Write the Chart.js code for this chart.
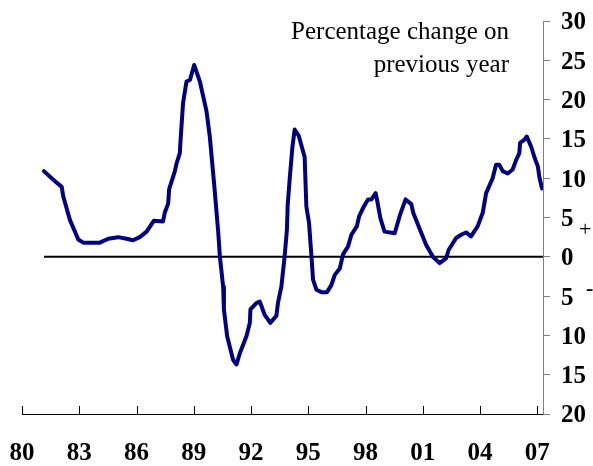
<!DOCTYPE html>
<html>
<head>
<meta charset="utf-8">
<script src="https://cdn.jsdelivr.net/npm/chart.js@4"></script>
<style>
  html, body { margin: 0; padding: 0; background: #fff; }
  canvas { display: block; }
</style>
</head>
<body>
<canvas id="chart" width="593" height="466"></canvas>
<script>
// values (year, % change on previous year)
const years = [1981.15, 1981.64, 1982.08, 1982.16, 1982.51, 1982.95, 1983.21, 1984.08, 1984.52, 1985.04,
  1985.48, 1985.82, 1986.17, 1986.53, 1986.91, 1987.39, 1987.48, 1987.66, 1987.71, 1988.0,
  1988.1, 1988.27, 1988.31, 1988.44, 1988.62, 1988.8, 1989.02, 1989.32, 1989.67, 1989.84,
  1990.07, 1990.28, 1990.37, 1990.54, 1990.58, 1990.75, 1991.06, 1991.24, 1991.41, 1991.76,
  1991.94, 1991.97, 1992.28, 1992.46, 1992.72, 1993.01, 1993.33, 1993.41, 1993.59, 1993.76,
  1993.88, 1993.92, 1994.03, 1994.17, 1994.29, 1994.5, 1994.81, 1994.9, 1995.04, 1995.17,
  1995.25, 1995.43, 1995.69, 1995.98, 1996.21, 1996.39, 1996.65, 1996.82, 1997.08, 1997.26,
  1997.55, 1997.66, 1997.87, 1998.13, 1998.31, 1998.53, 1998.6, 1998.78, 1999.0, 1999.53,
  1999.79, 2000.1, 2000.4, 2000.5, 2000.86, 2001.18, 2001.53, 2001.88, 2002.22, 2002.36,
  2002.75, 2003.01, 2003.27, 2003.53, 2003.88, 2004.14, 2004.32, 2004.66, 2004.84, 2005.01,
  2005.19, 2005.45, 2005.71, 2005.89, 2006.06, 2006.1, 2006.33, 2006.45, 2006.68, 2006.86,
  2007.03, 2007.12, 2007.25];
const growth = [10.9, 9.8, 8.9, 7.7, 4.7, 2.2, 1.8, 1.8, 2.3, 2.5,
  2.3, 2.1, 2.5, 3.2, 4.6, 4.5, 5.6, 6.8, 8.6, 10.8,
  11.9, 13.2, 14.9, 19.6, 22.3, 22.5, 24.4, 22.3, 18.5, 15.3,
  9.2, 3.2, 0, -3.8, -6.7, -10.1, -13.1, -13.7, -12.3, -10.1,
  -8.4, -6.7, -5.9, -5.7, -7.4, -8.4, -7.5, -5.9, -3.8, 0,
  3.4, 6.5, 10.0, 14.0, 16.2, 15.4, 12.7, 6.4, 4.3, 0,
  -2.9, -4.2, -4.5, -4.5, -3.6, -2.3, -1.5, 0.3, 1.3, 2.8,
  3.9, 5.1, 6.2, 7.3, 7.3, 8.1, 7.3, 4.9, 3.2, 3.0,
  5.2, 7.3, 6.7, 5.6, 3.4, 1.5, 0, -0.8, -0.2, 0.9,
  2.4, 2.8, 3.1, 2.6, 3.9, 5.6, 8.1, 10.0, 11.7, 11.7,
  10.9, 10.6, 11.1, 12.3, 13.2, 14.5, 14.9, 15.3, 14.0, 12.6,
  11.5, 10.0, 8.7];
const tickYears = [1980, 1983, 1986, 1989, 1992, 1995, 1998, 2001, 2004, 2007];
const titleLines = ["Percentage change on", "previous year"];

const X_MIN = 1980, X_MAX = 2007.3;
const SERIF = "'Liberation Serif', 'Times New Roman', serif";

// x axis tick marks point up into the plot, so draw them by hand
const innerTicks = {
  id: "innerTicks",
  afterDraw(chart) {
    const { ctx, scales: { x }, chartArea } = chart;
    ctx.save();
    ctx.strokeStyle = "#000";
    ctx.lineWidth = 1;
    tickYears.forEach(function (yr) {
      const px = Math.round(x.getPixelForValue(yr)) + 0.5;
      ctx.beginPath();
      ctx.moveTo(px, chartArea.bottom);
      ctx.lineTo(px, chartArea.bottom - 8);
      ctx.stroke();
    });
    ctx.restore();
  },
};

// heading and the +/- signs next to the axis
const notes = {
  id: "notes",
  afterDraw(chart) {
    const { ctx, scales: { y } } = chart;
    ctx.save();
    ctx.fillStyle = "#000";
    ctx.font = "25px " + SERIF;
    ctx.textAlign = "right";
    ctx.textBaseline = "alphabetic";
    ctx.fillText(titleLines[0], 509, 39);
    ctx.fillText(titleLines[1], 509, 72);
    ctx.textAlign = "left";
    ctx.textBaseline = "middle";
    ctx.font = "22px " + SERIF;
    ctx.fillText("+", 579, y.getPixelForValue(3.4));
    ctx.font = "bold 22px " + SERIF;
    ctx.fillText("-", 586, y.getPixelForValue(-4.2));
    ctx.restore();
  },
};

new Chart(document.getElementById("chart"), {
  type: "line",
  data: {
    datasets: [
      {
        label: "growth",
        data: years.map((yr, i) => ({ x: yr, y: growth[i] })),
        borderColor: "#000080",
        borderWidth: 4,
        borderJoinStyle: "round",
        borderCapStyle: "round",
        pointRadius: 0,
        tension: 0,
        order: 1,
      },
      {
        label: "zero",
        data: [{ x: years[0], y: 0 }, { x: X_MAX, y: 0 }],
        borderColor: "#000",
        borderWidth: 2,
        pointRadius: 0,
        order: 2,
      },
    ],
  },
  options: {
    responsive: false,
    animation: false,
    layout: { padding: { left: 22, top: 21, right: 0, bottom: 0 } },
    plugins: {
      legend: { display: false },
      tooltip: { enabled: false },
    },
    scales: {
      x: {
        type: "linear",
        min: X_MIN,
        max: X_MAX,
        afterBuildTicks: (s) => { s.ticks = tickYears.map((v) => ({ value: v })); },
        afterFit: (s) => { s.height = 52; s.paddingLeft = 0; s.paddingRight = 0; },
        border: { display: true, color: "#000", width: 1 },
        grid: { display: false, drawTicks: false },
        ticks: {
          padding: 25,
          maxRotation: 0,
          autoSkip: false,
          color: "#000",
          font: { family: SERIF, size: 25, weight: "bold" },
          callback: (v) => String(Math.round(v) % 100).padStart(2, "0"),
        },
      },
      y: {
        position: "right",
        min: -20,
        max: 30,
        afterFit: (s) => { s.width = 50; s.paddingTop = 0; s.paddingBottom = 0; },
        border: { display: true, color: "#808080", width: 1 },
        grid: { drawOnChartArea: false, drawTicks: true, tickLength: 7, color: "#808080" },
        ticks: {
          stepSize: 5,
          padding: 11,
          labelOffset: 2,
          color: "#000",
          font: { family: SERIF, size: 25, weight: "bold" },
          callback: (v) => Math.abs(v),
        },
      },
    },
  },
  plugins: [innerTicks, notes],
});
</script>
</body>
</html>
